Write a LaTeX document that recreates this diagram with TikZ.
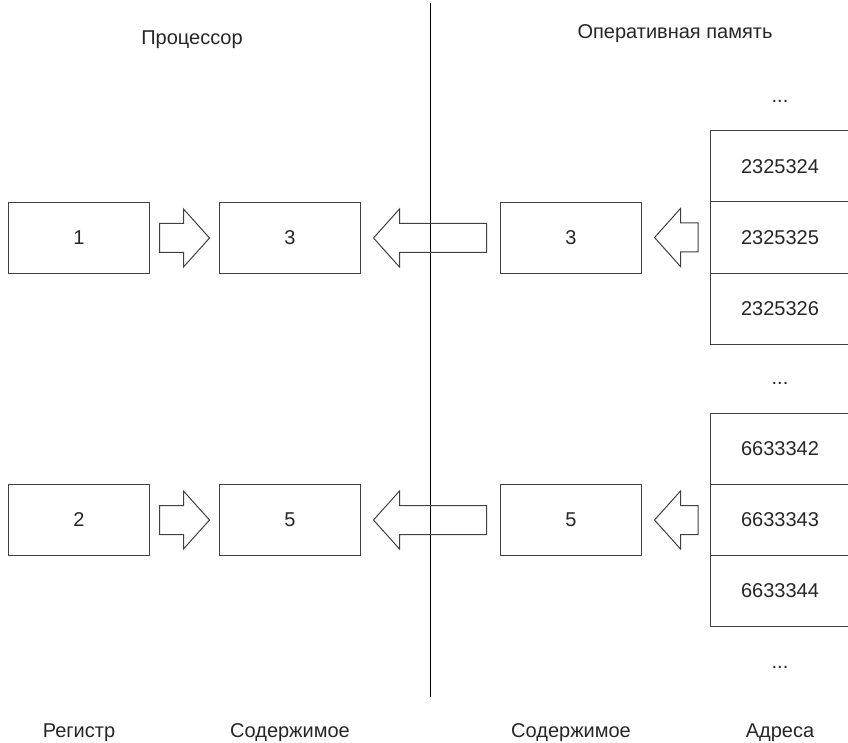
\documentclass[tikz,border=0pt]{standalone}
\usepackage{fontspec}
\setmainfont{Liberation Sans}
\usetikzlibrary{positioning, calc}
\tikzset{
    every node/.style={font=\fontsize{20}{24}\selectfont, text=black!85}, % all labels in one size
    box/.style={draw=black!75, line width=1pt, minimum width=141pt, minimum height=71pt, outer sep=0pt}, % register and value boxes
    cell/.style={box, minimum width=140pt}, % memory cells, stacked without gaps
    blockline/.style={draw=black!75, line width=1pt, line join=miter}, % outline of the fat arrows
}
% fat arrow from #1 (tail) to #2 (tip), rows are horizontal
\newcommand{\blockarrow}[2]{%
    \draw[blockline] let \p1=(#1), \p2=(#2), \p3=($(#2)!26pt!(#1)$) in
        (\x1,\y1+14.5pt) -- (\x3,\y1+14.5pt) -- (\x3,\y1+29pt) -- (\x2,\y1)
        -- (\x3,\y1-29pt) -- (\x3,\y1-14.5pt) -- (\x1,\y1-14.5pt) -- cycle;}

\begin{document}
\begin{tikzpicture}[x=1pt, y=-1pt]
        \useasboundingbox (0,0) rectangle (848,743);

        % processor side
        \node[anchor=base] (P) at (192,45) {Процессор};
        \node[box] (R1) at (79,238) {1};
        \node[box] (C1) at (290,238) {3};
        \node[box] (R2) at (79,520) {2};
        \node[box] (C2) at (290,520) {5};

        % memory side
        \node[anchor=base] (O) at (675,39) {Оперативная память};
        \node (D1) at (780,101) {...};
        \node[cell] (A1) at (780,166.5) {2325324};
        \node[cell, below=0pt of A1] (A2) {2325325};
        \node[cell, below=0pt of A2] (A3) {2325326};
        \node (D2) at (780,383) {...};
        \node[cell] (B1) at (780,449) {6633342};
        \node[cell, below=0pt of B1] (B2) {6633343};
        \node[cell, below=0pt of B2] (B3) {6633344};
        \node (D3) at (780,667) {...};
        \node[box] (M1) at (571,238) {3};
        \node[box] (M2) at (571,520) {5};

        % column captions
        \node[anchor=base] (LR) at (79,737) {Регистр};
        \node[anchor=base] (LC) at (290,737) {Содержимое};
        \node[anchor=base] (LM) at (571,737) {Содержимое};
        \node[anchor=base] (LA) at (780,737) {Адреса};

        % divider
        \coordinate (T) at (430,3);
        \coordinate (B) at (430,697);
        \draw[line width=1pt] (T) -- (B);

        % data flow
        \blockarrow{[xshift=10pt]R1.east}{[xshift=-10pt]C1.west}
        \blockarrow{[xshift=-14pt]M1.west}{[xshift=13pt]C1.east}
        \blockarrow{[xshift=-12pt]A2.west}{[xshift=13pt]M1.east}
        \blockarrow{[xshift=10pt]R2.east}{[xshift=-10pt]C2.west}
        \blockarrow{[xshift=-14pt]M2.west}{[xshift=13pt]C2.east}
        \blockarrow{[xshift=-12pt]B2.west}{[xshift=13pt]M2.east}
\end{tikzpicture}
\end{document}
